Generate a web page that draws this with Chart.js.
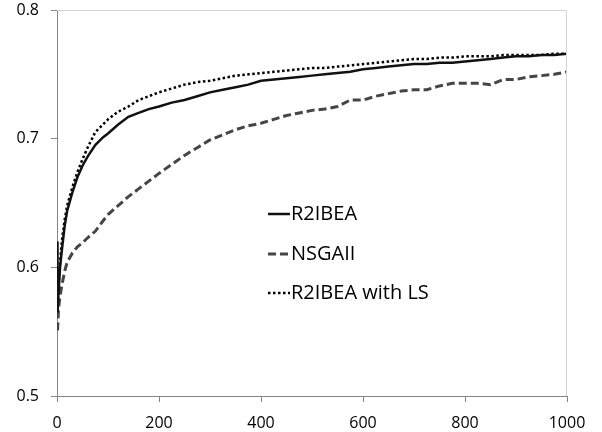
<!DOCTYPE html>
<html>
<head>
<meta charset="utf-8">
<script src="https://cdn.jsdelivr.net/npm/chart.js@4.4.1/dist/chart.umd.min.js"></script>
<style>
  html, body { margin: 0; padding: 0; background: #fff; }
  #wrap { width: 602px; height: 432px; position: relative; }
</style>
</head>
<body>
<div id="wrap"><canvas id="c" width="602" height="432"></canvas></div>
<script>
const generations = [0, 1, 3, 6, 10, 15, 20, 30, 40, 50, 60, 75, 90, 100, 120, 140, 160, 180, 200,
  225, 250, 275, 300, 325, 350, 375, 400, 425, 450, 475, 500, 525, 550, 575, 600, 625, 650, 675,
  700, 725, 750, 775, 800, 825, 850, 875, 900, 925, 950, 975, 1000];

const r2ibea = [0.620, 0.565, 0.580, 0.600, 0.615, 0.632, 0.644, 0.658, 0.670, 0.679, 0.686, 0.695, 0.701, 0.704, 0.711, 0.717, 0.720, 0.723, 0.725,
  0.728, 0.730, 0.733, 0.736, 0.738, 0.740, 0.742, 0.745, 0.746, 0.747, 0.748, 0.749, 0.750, 0.751, 0.752, 0.754, 0.755, 0.756, 0.757,
  0.758, 0.758, 0.759, 0.759, 0.760, 0.761, 0.762, 0.763, 0.764, 0.764, 0.765, 0.765, 0.766];

const nsgaii = [null, 0.551, 0.568, 0.578, 0.587, 0.597, 0.604, 0.611, 0.616, 0.619, 0.623, 0.628, 0.636, 0.641, 0.648, 0.655, 0.661, 0.667, 0.673,
  0.680, 0.687, 0.693, 0.699, 0.703, 0.707, 0.710, 0.712, 0.715, 0.718, 0.720, 0.722, 0.723, 0.725, 0.730, 0.730, 0.733, 0.735, 0.737,
  0.738, 0.738, 0.741, 0.743, 0.743, 0.743, 0.742, 0.746, 0.746, 0.748, 0.749, 0.750, 0.752];

const r2ibeaLS = [null, 0.567, 0.585, 0.605, 0.622, 0.637, 0.648, 0.662, 0.674, 0.684, 0.693, 0.705, 0.711, 0.715, 0.721, 0.725, 0.730, 0.733, 0.736,
  0.739, 0.742, 0.744, 0.745, 0.747, 0.749, 0.750, 0.751, 0.752, 0.753, 0.754, 0.755, 0.755, 0.756, 0.757, 0.758, 0.759, 0.760, 0.761,
  0.762, 0.762, 0.763, 0.763, 0.764, 0.764, 0.764, 0.765, 0.765, 0.765, 0.765, 0.766, 0.766];

const seriesNames = ['R2IBEA', 'NSGAII', 'R2IBEA with LS'];
const xTicks = [0, 200, 400, 600, 800, 1000];
const yTicks = [0.5, 0.6, 0.7, 0.8];

const FONT = "'Open Sans', 'Liberation Sans', sans-serif";

function toPoints(vals) {
  return generations.map((g, i) => ({ x: g, y: vals[i] }));
}

const legendPlugin = {
  id: 'innerLegend',
  afterDraw(chart) {
    const ctx = chart.ctx;
    const ca = chart.chartArea;
    ctx.save();
    ctx.strokeStyle = '#d4d4d4';
    ctx.lineWidth = 1;
    ctx.beginPath();
    ctx.moveTo(ca.left, ca.top + 0.5);
    ctx.lineTo(ca.right - 0.5, ca.top + 0.5);
    ctx.lineTo(ca.right - 0.5, ca.bottom);
    ctx.stroke();
    ctx.restore();

    const startX = 268, lineLen = 22, textGap = 1;
    const rows = [214, 254, 293];
    chart.data.datasets.forEach((ds, i) => {
      const y = rows[i];
      ctx.save();
      ctx.strokeStyle = ds.borderColor;
      ctx.lineWidth = ds.borderWidth;
      ctx.setLineDash(ds.borderDash || []);
      ctx.beginPath();
      ctx.moveTo(startX, y);
      ctx.lineTo(startX + lineLen, y);
      ctx.stroke();
      ctx.setLineDash([]);
      ctx.fillStyle = '#000';
      ctx.font = '20px ' + FONT;
      ctx.textBaseline = 'middle';
      ctx.textAlign = 'left';
      ctx.fillText(ds.label, startX + lineLen + textGap, y);
      ctx.restore();
    });
  }
};

new Chart(document.getElementById('c'), {
  type: 'line',
  data: {
    datasets: [
      { label: seriesNames[0], data: toPoints(r2ibea), borderColor: '#111111', borderWidth: 2.5, borderDash: [], pointRadius: 0, tension: 0, fill: false },
      { label: seriesNames[1], data: toPoints(nsgaii), borderColor: '#454545', borderWidth: 3, borderDash: [8, 4], pointRadius: 0, tension: 0, fill: false },
      { label: seriesNames[2], data: toPoints(r2ibeaLS), borderColor: '#000000', borderWidth: 2.5, borderDash: [2.5, 2.5], pointRadius: 0, tension: 0, fill: false }
    ]
  },
  options: {
    responsive: false,
    animation: false,
    devicePixelRatio: 1,
    layout: { padding: { left: 0, right: 35, top: 10, bottom: 0 } },
    plugins: { legend: { display: false }, tooltip: { enabled: false } },
    scales: {
      x: {
        type: 'linear', min: 0, max: 1000,
        afterFit(s) { s.height = 36; s.paddingLeft = 0; s.paddingRight = 0; },
        afterBuildTicks(s) { s.ticks = xTicks.map(v => ({ value: v })); },
        border: { display: true, color: '#868686', width: 1 },
        grid: { display: true, drawOnChartArea: false, drawTicks: true, tickLength: 6, tickColor: '#868686' },
        ticks: { color: '#000', font: { family: FONT, size: 16 }, padding: 12, maxRotation: 0, callback: v => String(v) }
      },
      y: {
        type: 'linear', min: 0.5, max: 0.8,
        afterFit(s) { s.width = 57; s.paddingTop = 0; s.paddingBottom = 0; },
        afterBuildTicks(s) { s.ticks = yTicks.map(v => ({ value: v })); },
        border: { display: true, color: '#868686', width: 1 },
        grid: { display: true, drawOnChartArea: false, drawTicks: true, tickLength: 6, tickColor: '#868686' },
        ticks: { color: '#000', font: { family: FONT, size: 16 }, padding: 12, callback: v => v.toFixed(1) }
      }
    }
  },
  plugins: [legendPlugin]
});
</script>
</body>
</html>
